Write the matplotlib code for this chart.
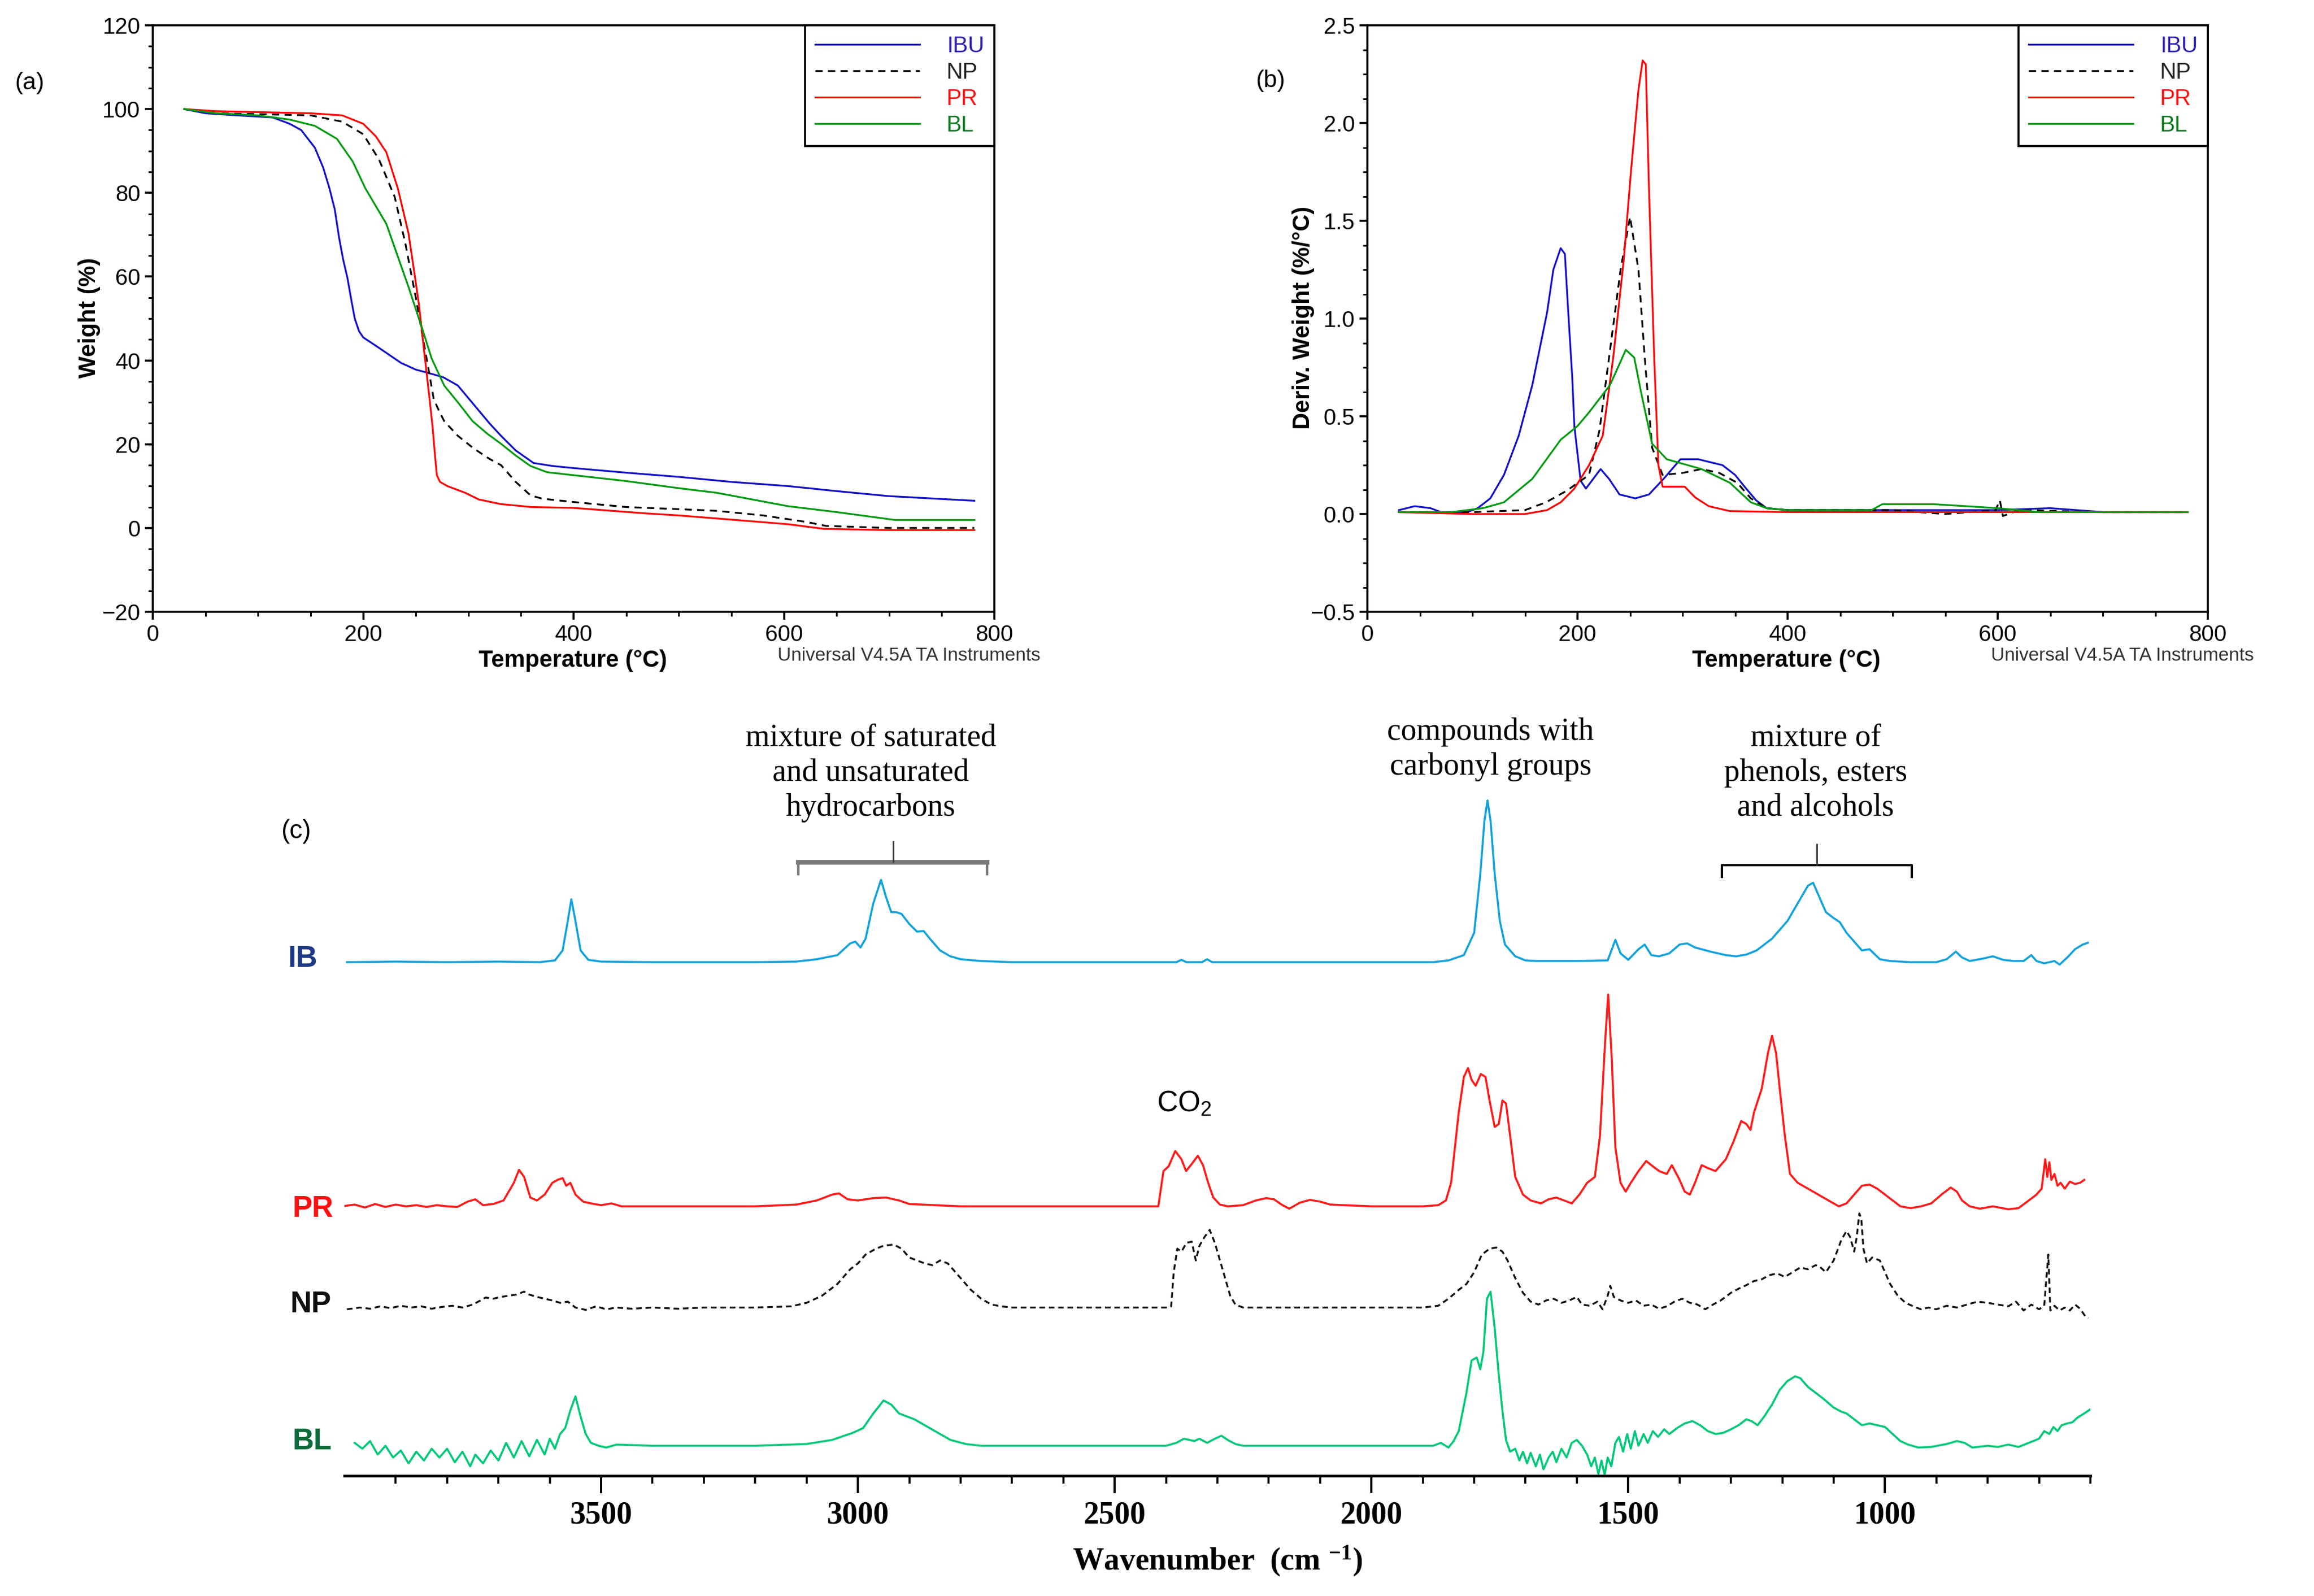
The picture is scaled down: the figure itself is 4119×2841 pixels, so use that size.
import matplotlib
matplotlib.use("Agg")
import matplotlib.pyplot as plt
from matplotlib.ticker import MultipleLocator, FixedLocator

plt.rcParams['font.family'] = ['Liberation Sans', 'DejaVu Sans']
plt.rcParams['mathtext.fontset'] = 'custom'
plt.rcParams['mathtext.default'] = 'regular'

W, H = 4119, 2841

# ---------------- (a) TGA : weight (%) vs temperature (C) ----------------
tga_ibu_t = [30, 50, 80, 114, 130, 141, 154, 162, 168, 173, 177, 181, 185, 189, 192, 196, 200, 215, 236, 250, 262, 276, 290, 305, 320, 331, 345, 362, 380, 400, 450, 500, 550, 604, 650, 700, 781]
tga_ibu_w = [100, 99, 98.5, 98, 96.5, 95, 90.8, 86, 81, 76, 69.4, 64, 59.7, 54, 50, 47, 45.5, 43, 39.4, 37.8, 37, 36, 34, 29.5, 25, 22, 18.5, 15.5, 14.8, 14.3, 13.2, 12.2, 11, 10, 8.8, 7.6, 6.5]

tga_np_t = [30, 60, 100, 150, 180, 200, 215, 230, 240, 250, 257, 262, 267, 272, 277, 290, 305, 320, 331, 345, 359, 370, 400, 450, 500, 536, 580, 620, 640, 700, 781]
tga_np_w = [100, 99, 98.8, 98.5, 97, 94, 88, 79, 68, 55, 45, 38, 30.8, 28, 25.5, 22, 19, 16.5, 15, 11, 7.8, 7, 6.2, 5, 4.5, 4.1, 3, 1.5, 0.5, 0, 0]

tga_pr_t = [30, 60, 150, 180, 200, 212, 222, 233, 243, 248, 253, 258, 263, 266, 268, 270, 273, 280, 297, 310, 331, 360, 400, 468, 500, 550, 604, 638, 700, 781]
tga_pr_w = [100, 99.5, 99, 98.5, 96.5, 93.5, 89.7, 81, 70.4, 62, 53.3, 42, 31, 24, 18, 12.6, 11, 10, 8.4, 6.8, 5.7, 5, 4.8, 3.5, 3, 2, 0.9, -0.2, -0.5, -0.5]

tga_bl_t = [30, 60, 100, 130, 154, 175, 190, 202, 222, 243, 257, 265, 277, 290, 304, 318, 331, 345, 359, 375, 400, 450, 500, 536, 604, 650, 706, 781]
tga_bl_w = [100, 99, 98.5, 97.5, 96, 92.9, 87.5, 81.1, 72.6, 57.6, 46.9, 40.5, 34, 30, 25.5, 22.5, 20.1, 17.3, 14.8, 13.3, 12.6, 11.2, 9.5, 8.4, 5.2, 3.8, 1.9, 1.9]

# ---------------- (b) DTG : deriv. weight (%/C) ----------------
dtg_ibu_t = [30, 45, 60, 70, 95, 105, 117, 130, 144, 157, 171, 177, 184, 188, 191, 195, 197, 203, 208, 215, 222, 230, 240, 255, 268, 282, 298, 315, 338, 350, 359, 370, 380, 400, 500, 600, 650, 700, 781]
dtg_ibu_d = [0.02, 0.04, 0.03, 0.01, 0.01, 0.03, 0.08, 0.2, 0.4, 0.66, 1.03, 1.25, 1.36, 1.33, 1.05, 0.7, 0.45, 0.17, 0.13, 0.18, 0.23, 0.18, 0.1, 0.08, 0.1, 0.18, 0.28, 0.28, 0.25, 0.2, 0.14, 0.07, 0.03, 0.02, 0.02, 0.02, 0.03, 0.01, 0.01]

dtg_np_t = [30, 100, 150, 170, 190, 211, 221, 231, 241, 250, 258, 264, 271, 281, 300, 318, 335, 352, 365, 380, 400, 500, 550, 598, 602, 605, 620, 700, 781]
dtg_np_d = [0.01, 0.01, 0.02, 0.06, 0.12, 0.2, 0.43, 0.84, 1.25, 1.52, 1.25, 0.8, 0.34, 0.2, 0.21, 0.23, 0.21, 0.16, 0.08, 0.03, 0.02, 0.02, 0.0, 0.02, 0.07, -0.01, 0.02, 0.01, 0.01]

dtg_pr_t = [30, 100, 150, 171, 184, 197, 211, 224, 234, 244, 251, 258, 262, 265, 268, 273, 277, 281, 302, 312, 325, 345, 400, 500, 600, 700, 781]
dtg_pr_d = [0.01, 0.0, 0.0, 0.02, 0.06, 0.13, 0.25, 0.4, 0.8, 1.3, 1.76, 2.17, 2.32, 2.3, 1.67, 0.8, 0.25, 0.14, 0.14, 0.085, 0.04, 0.015, 0.01, 0.01, 0.01, 0.01, 0.01]

dtg_bl_t = [30, 80, 110, 130, 157, 184, 200, 211, 231, 246, 254, 261, 271, 285, 318, 345, 365, 380, 400, 480, 490, 540, 600, 640, 700, 781]
dtg_bl_d = [0.01, 0.01, 0.03, 0.06, 0.18, 0.38, 0.45, 0.52, 0.66, 0.84, 0.8, 0.61, 0.36, 0.28, 0.23, 0.16, 0.06, 0.03, 0.02, 0.02, 0.05, 0.05, 0.03, 0.01, 0.01, 0.01]

# ---------------- (c) FTIR spectra (intensity above each baseline) ----------------
ib_wn = [3995, 3900, 3800, 3700, 3620, 3590, 3575, 3565, 3558, 3550, 3540, 3525, 3500, 3400, 3300, 3200, 3120, 3080, 3040, 3015, 3005, 2995, 2985, 2970, 2955, 2945, 2935, 2925, 2915, 2900, 2885, 2872, 2860, 2840, 2820, 2800, 2760, 2700, 2500, 2380, 2370, 2360, 2330, 2320, 2310, 2200, 2000, 1880, 1850, 1820, 1800, 1788, 1780, 1774, 1768, 1760, 1750, 1740, 1720, 1700, 1680, 1600, 1540, 1525, 1515, 1500, 1480, 1468, 1455, 1440, 1420, 1400, 1385, 1370, 1340, 1310, 1290, 1270, 1250, 1220, 1190, 1170, 1150, 1140, 1130, 1115, 1100, 1088, 1075, 1060, 1045, 1030, 1010, 990, 950, 900, 880, 862, 850, 835, 810, 790, 770, 750, 730, 715, 705, 690, 670, 660, 645, 630, 615, 605]
ib_int = [0, 1, 0, 1, 0, 3, 20, 70, 107, 70, 20, 4, 1, 0, 0, 0, 1, 5, 12, 32, 35, 25, 40, 100, 140, 110, 85, 85, 82, 65, 52, 53, 40, 20, 10, 5, 2, 0, 0, 0, 4, 0, 0, 5, 0, 0, 0, 0, 3, 12, 50, 150, 240, 275, 240, 150, 70, 30, 10, 3, 2, 2, 3, 38, 15, 4, 22, 30, 12, 10, 15, 30, 32, 25, 18, 12, 10, 13, 20, 40, 70, 100, 130, 135, 115, 85, 75, 68, 50, 35, 20, 22, 5, 2, 0, 0, 5, 18, 8, 2, 6, 10, 4, 2, 2, 12, 2, -2, 2, -4, 8, 22, 30, 33]

pr_wn = [4005, 3980, 3960, 3940, 3920, 3900, 3880, 3860, 3840, 3820, 3800, 3780, 3760, 3745, 3730, 3710, 3690, 3670, 3660, 3650, 3638, 3625, 3610, 3595, 3585, 3575, 3568, 3560, 3550, 3535, 3520, 3500, 3480, 3460, 3400, 3200, 3120, 3080, 3050, 3037, 3020, 3000, 2970, 2945, 2920, 2900, 2850, 2800, 2600, 2415, 2405, 2395, 2382, 2370, 2361, 2350, 2338, 2328, 2318, 2308, 2295, 2280, 2250, 2225, 2205, 2190, 2175, 2160, 2140, 2120, 2100, 2080, 2000, 1900, 1870, 1855, 1845, 1830, 1820, 1812, 1805, 1797, 1787, 1778, 1770, 1760, 1752, 1745, 1738, 1730, 1720, 1705, 1690, 1670, 1655, 1640, 1625, 1610, 1595, 1580, 1565, 1555, 1545, 1539, 1532, 1525, 1515, 1505, 1495, 1480, 1465, 1455, 1440, 1425, 1415, 1400, 1390, 1380, 1370, 1357, 1345, 1330, 1310, 1295, 1280, 1270, 1262, 1255, 1240, 1228, 1220, 1212, 1205, 1195, 1185, 1170, 1150, 1130, 1110, 1090, 1075, 1060, 1045, 1030, 1015, 1000, 985, 970, 950, 930, 910, 890, 872, 860, 850, 835, 815, 790, 760, 740, 720, 705, 695, 688, 684, 680, 676, 670, 664, 658, 650, 640, 630, 620, 612]
pr_int = [0, 3, -2, 4, -1, 3, 0, 2, -1, 2, 0, -1, 8, 12, 2, 4, 10, 40, 62, 50, 15, 10, 20, 40, 45, 48, 35, 40, 20, 8, 5, 2, 5, 0, 0, 0, 3, 10, 20, 22, 12, 10, 14, 15, 10, 4, 2, 0, 0, 0, 60, 68, 94, 80, 60, 72, 86, 70, 40, 15, 3, 0, 2, 10, 14, 12, 3, -4, 6, 11, 8, 3, 0, 0, 2, 10, 40, 160, 220, 235, 215, 205, 225, 220, 180, 135, 140, 180, 175, 120, 50, 20, 10, 5, 12, 15, 10, 5, 20, 40, 50, 120, 280, 360, 250, 100, 40, 25, 40, 60, 77, 70, 60, 55, 70, 45, 25, 20, 40, 70, 65, 60, 80, 110, 145, 140, 130, 160, 200, 260, 290, 260, 200, 120, 55, 40, 30, 20, 10, 0, 5, 20, 35, 37, 30, 20, 10, 0, -3, 0, 5, 20, 32, 25, 10, 0, -4, 0, -5, -3, 10, 20, 30, 80, 50, 75, 45, 55, 35, 40, 30, 42, 38, 40, 45]

np_wn = [3995, 3970, 3950, 3930, 3910, 3890, 3870, 3850, 3830, 3810, 3790, 3770, 3750, 3735, 3725, 3710, 3695, 3680, 3665, 3650, 3640, 3625, 3610, 3595, 3580, 3565, 3550, 3530, 3510, 3490, 3470, 3440, 3400, 3350, 3300, 3200, 3130, 3100, 3070, 3040, 3015, 3000, 2985, 2965, 2950, 2930, 2915, 2900, 2885, 2870, 2855, 2840, 2825, 2810, 2795, 2780, 2760, 2740, 2720, 2700, 2500, 2400, 2390, 2385, 2378, 2370, 2360, 2350, 2342, 2335, 2325, 2315, 2305, 2295, 2285, 2275, 2265, 2250, 2100, 1900, 1870, 1850, 1830, 1815, 1800, 1785, 1770, 1757, 1745, 1735, 1720, 1705, 1690, 1675, 1660, 1645, 1630, 1615, 1600, 1590, 1575, 1560, 1550, 1540, 1535, 1528, 1515, 1500, 1485, 1470, 1455, 1440, 1425, 1410, 1395, 1380, 1365, 1350, 1335, 1320, 1300, 1285, 1270, 1255, 1240, 1225, 1210, 1195, 1180, 1165, 1150, 1135, 1128, 1115, 1100, 1085, 1075, 1068, 1060, 1055, 1050, 1046, 1042, 1035, 1025, 1010, 1000, 990, 975, 960, 945, 930, 915, 900, 880, 860, 840, 820, 800, 780, 760, 745, 730, 715, 700, 690, 682, 678, 670, 660, 650, 640, 630, 620, 610, 604]
np_int = [-3, 0, -2, 2, -1, 3, 0, 2, -2, 1, 3, 0, 5, 12, 17, 15, 18, 20, 22, 27, 22, 18, 15, 12, 8, 10, 0, -4, 2, -3, 0, -2, 0, -2, 0, 0, 2, 8, 20, 40, 65, 75, 90, 100, 105, 107, 100, 85, 80, 75, 72, 80, 75, 60, 45, 30, 15, 5, 2, 0, 0, 0, 2, 60, 100, 95, 110, 112, 80, 105, 120, 132, 110, 80, 50, 20, 5, 0, 0, 0, 3, 15, 30, 40, 60, 90, 100, 102, 95, 80, 50, 25, 10, 5, 12, 15, 8, 12, 18, 5, 3, 10, -3, 20, 37, 18, 12, 8, 12, 3, 5, -2, 2, 10, 15, 8, 5, -3, 5, 12, 25, 32, 38, 45, 48, 55, 58, 52, 60, 68, 65, 72, 70, 60, 80, 115, 130, 120, 95, 120, 160, 150, 100, 75, 85, 80, 60, 40, 20, 8, 2, -3, 0, -3, 3, 0, 5, 10, 8, 5, 2, 10, -5, 5, -3, 3, 90, -5, 3, -5, 0, -5, 5, -2, -15, -18]

bl_wn = [3980, 3965, 3950, 3935, 3920, 3905, 3890, 3875, 3860, 3845, 3830, 3815, 3800, 3785, 3770, 3755, 3745, 3730, 3715, 3700, 3685, 3670, 3655, 3640, 3625, 3610, 3600, 3590, 3580, 3570, 3560, 3550, 3540, 3530, 3520, 3505, 3490, 3470, 3400, 3300, 3200, 3100, 3050, 3010, 2990, 2970, 2950, 2935, 2920, 2905, 2890, 2870, 2850, 2820, 2790, 2760, 2600, 2400, 2380, 2365, 2355, 2345, 2335, 2320, 2305, 2292, 2280, 2265, 2250, 2000, 1880, 1865, 1850, 1840, 1830, 1815, 1805, 1795, 1788, 1782, 1775, 1768, 1760, 1752, 1745, 1738, 1730, 1720, 1712, 1705, 1697, 1690, 1680, 1672, 1665, 1655, 1647, 1640, 1630, 1620, 1610, 1600, 1590, 1580, 1572, 1565, 1558, 1552, 1546, 1540, 1533, 1525, 1518, 1510, 1502, 1495, 1487, 1480, 1470, 1462, 1452, 1442, 1430, 1420, 1405, 1390, 1375, 1360, 1345, 1330, 1315, 1300, 1285, 1270, 1260, 1248, 1235, 1220, 1205, 1190, 1175, 1165, 1150, 1135, 1120, 1100, 1085, 1075, 1060, 1045, 1030, 1015, 1000, 985, 970, 955, 935, 910, 880, 860, 845, 830, 800, 780, 760, 740, 720, 700, 690, 680, 672, 664, 656, 645, 635, 625, 612, 600]
bl_int = [5, -5, 8, -15, 0, -20, -8, -30, -10, -25, -5, -20, -5, -28, -10, -35, -15, -30, -8, -25, 5, -20, 8, -18, 10, -15, 12, -5, 20, 30, 60, 84, 50, 20, 5, 0, -3, 2, 0, 0, 0, 3, 10, 22, 30, 55, 77, 70, 55, 50, 45, 35, 25, 10, 3, 0, 0, 0, 5, 12, 10, 8, 12, 5, 12, 17, 10, 3, 0, 0, 0, 5, -3, 8, 25, 90, 145, 150, 130, 160, 250, 262, 200, 120, 60, 10, -10, -5, -25, -10, -30, -12, -35, -15, -40, -20, -10, -28, -5, -20, 5, 10, 0, -15, -35, -20, -48, -25, -50, -20, -35, 5, 15, -10, 20, -5, 25, 0, 20, 5, 25, 15, 28, 20, 30, 38, 42, 35, 25, 20, 22, 28, 35, 45, 42, 35, 50, 70, 95, 110, 118, 115, 100, 90, 80, 65, 58, 55, 45, 35, 38, 35, 32, 20, 8, 2, -3, -2, 3, 8, 5, -3, 0, -2, 2, -2, 5, 12, 25, 20, 32, 25, 35, 38, 40, 48, 55, 62]

fig = plt.figure(figsize=(W / 100, H / 100), dpi=100)


def box(l, t, r, b):
    return [l / W, 1 - b / H, (r - l) / W, (b - t) / H]


def style_ta(ax):
    for s in ax.spines.values():
        s.set_linewidth(2.6)
    ax.tick_params(which='major', direction='out', length=10, width=2.6, labelsize=29, pad=6)
    ax.tick_params(which='minor', direction='out', length=6, width=2.2)
    ax.tick_params(top=False, right=False, which='both')


def legend_ta(ax):
    leg = ax.legend(loc='upper right', bbox_to_anchor=(1, 1), borderaxespad=0, fontsize=29,
                    handlelength=4.6, handletextpad=1.2, labelspacing=0.22, borderpad=0.45,
                    fancybox=False, framealpha=1, edgecolor='black')
    leg.get_frame().set_linewidth(2.6)
    for txt, c in zip(leg.get_texts(), ['#2a1fb0', '#222222', '#ff1010', '#0a7a20']):
        txt.set_color(c)


# ---- panel (a)
ax_a = fig.add_axes(box(272, 45, 1770, 1089))
ax_a.plot(tga_ibu_t, tga_ibu_w, color='#1010c8', lw=2.3, label='IBU')
ax_a.plot(tga_np_t, tga_np_w, color='black', lw=2.3, ls=(0, (4, 3)), label='NP')
ax_a.plot(tga_pr_t, tga_pr_w, color='#ff0000', lw=2.3, label='PR')
ax_a.plot(tga_bl_t, tga_bl_w, color='#009a10', lw=2.3, label='BL')
ax_a.set_xlim(0, 800)
ax_a.set_ylim(-20, 120)
ax_a.xaxis.set_major_locator(MultipleLocator(200))
ax_a.xaxis.set_minor_locator(MultipleLocator(50))
ax_a.yaxis.set_major_locator(MultipleLocator(20))
ax_a.yaxis.set_minor_locator(MultipleLocator(5))
style_ta(ax_a)
legend_ta(ax_a)
fig.text(1020 / W, 1 - 1176 / H, 'Temperature (°C)', fontsize=30, fontweight='bold', ha='center', va='center')
fig.text(159 / W, 1 - 566 / H, 'Weight (%)', fontsize=30, fontweight='bold', ha='center', va='center', rotation=90)
fig.text(1384 / W, 1 - 1168 / H, 'Universal V4.5A TA Instruments', fontsize=24, color='#333333', ha='left', va='center')
fig.text(26 / W, 1 - 148 / H, '(a)', fontsize=31, ha='left', va='center')

# ---- panel (b)
ax_b = fig.add_axes(box(2434, 45, 3930, 1089))
ax_b.plot(dtg_ibu_t, dtg_ibu_d, color='#1010c8', lw=2.3, label='IBU')
ax_b.plot(dtg_np_t, dtg_np_d, color='black', lw=2.3, ls=(0, (4, 3)), label='NP')
ax_b.plot(dtg_pr_t, dtg_pr_d, color='#ff0000', lw=2.3, label='PR')
ax_b.plot(dtg_bl_t, dtg_bl_d, color='#009a10', lw=2.3, label='BL')
ax_b.set_xlim(0, 800)
ax_b.set_ylim(-0.5, 2.5)
ax_b.xaxis.set_major_locator(MultipleLocator(200))
ax_b.xaxis.set_minor_locator(MultipleLocator(50))
ax_b.yaxis.set_major_locator(MultipleLocator(0.5))
ax_b.yaxis.set_minor_locator(MultipleLocator(0.125))
ax_b.yaxis.set_major_formatter(plt.FuncFormatter(lambda v, p: f'{v:.1f}'.replace('-', '\u2212')))
style_ta(ax_b)
legend_ta(ax_b)
fig.text(3180 / W, 1 - 1176 / H, 'Temperature (°C)', fontsize=30, fontweight='bold', ha='center', va='center')
fig.text(2320 / W, 1 - 566 / H, 'Deriv. Weight (%/°C)', fontsize=30, fontweight='bold', ha='center', va='center', rotation=90)
fig.text(3544 / W, 1 - 1168 / H, 'Universal V4.5A TA Instruments', fontsize=24, color='#333333', ha='left', va='center')
fig.text(2235 / W, 1 - 144 / H, '(b)', fontsize=31, ha='left', va='center')

# ---- panel (c)
offsets = {'IB': 873, 'PR': 458, 'NP': 286, 'BL': 51}
ax_c = fig.add_axes(box(613, 1230, 3721, 2627))
ax_c.plot(ib_wn, [v + offsets['IB'] for v in ib_int], color='#12a2dc', lw=2.6)
ax_c.plot(pr_wn, [v + offsets['PR'] for v in pr_int], color='#ff1a1a', lw=2.6)
ax_c.plot(np_wn, [v + offsets['NP'] for v in np_int], color='#111111', lw=2.4, ls=(0, (3, 2)))
ax_c.plot(bl_wn, [v + offsets['BL'] for v in bl_int], color='#00c878', lw=2.6)
ax_c.set_xlim(4000, 600)
ax_c.set_ylim(0, 1334)
for s in ['left', 'right', 'top']:
    ax_c.spines[s].set_visible(False)
ax_c.spines['bottom'].set_linewidth(3.4)
ax_c.set_yticks([])
ax_c.xaxis.set_major_locator(FixedLocator([3500, 3000, 2500, 2000, 1500, 1000]))
ax_c.xaxis.set_minor_locator(FixedLocator(list(range(3900, 599, -100))))
ax_c.tick_params(axis='x', which='major', direction='out', length=22, width=2.8, pad=10)
ax_c.tick_params(axis='x', which='minor', direction='out', length=10, width=2.6)
for lab in ax_c.get_xticklabels():
    lab.set_fontfamily('Liberation Serif')
    lab.set_fontweight('bold')
    lab.set_fontsize(40)
ax_c.set_xlabel('Wavenumber  (cm $^{-1}$)', fontfamily='Liberation Serif', fontweight='bold', fontsize=40, labelpad=18)

# brackets and annotations
ax_c.plot([3116, 3116, 2748, 2748], [1023, 1043, 1043, 1023], color='#777777', lw=3.2, solid_joinstyle='miter')
ax_c.plot([3116, 2748], [1043, 1043], color='#777777', lw=6)
ax_c.plot([2931, 2931], [1043, 1078], color='#333333', lw=2)
ax_c.plot([1318, 1318, 948, 948], [1018, 1038, 1038, 1018], color='black', lw=3)
ax_c.plot([1133, 1133], [1038, 1073], color='#333333', lw=2)
ax_c.text(2975, 1195, 'mixture of saturated\nand unsaturated\nhydrocarbons', fontfamily='Liberation Serif',
          fontsize=40, ha='center', va='center', linespacing=1.25)
ax_c.text(1768, 1235, 'compounds with\ncarbonyl groups', fontfamily='Liberation Serif',
          fontsize=40, ha='center', va='center', linespacing=1.25)
ax_c.text(1135, 1195, 'mixture of\nphenols, esters\nand alcohols', fontfamily='Liberation Serif',
          fontsize=40, ha='center', va='center', linespacing=1.25)
ax_c.text(2365, 632, 'CO$_\\mathregular{2}$', fontsize=37, ha='center', va='center')

fig.text(500 / W, 1 - 1480 / H, '(c)', fontsize=33, ha='left', va='center')
fig.text(512 / W, 1 - 1707 / H, 'IB', fontsize=38, fontweight='bold', color='#1d3a86', ha='left', va='center')
fig.text(520 / W, 1 - 2152 / H, 'PR', fontsize=38, fontweight='bold', color='#ff1010', ha='left', va='center')
fig.text(516 / W, 1 - 2322 / H, 'NP', fontsize=38, fontweight='bold', color='#111111', ha='left', va='center')
fig.text(520 / W, 1 - 2566 / H, 'BL', fontsize=38, fontweight='bold', color='#0b6b3a', ha='left', va='center')

fig.savefig('out.png', dpi=100, facecolor='white')
